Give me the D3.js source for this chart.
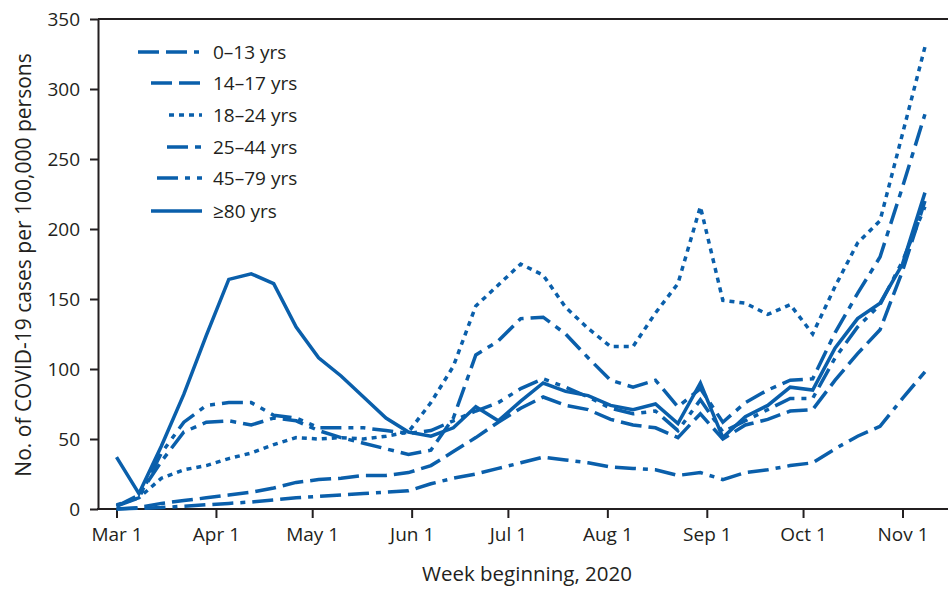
<!DOCTYPE html>
<html>
<head>
<meta charset="utf-8">
<script src="https://cdn.jsdelivr.net/npm/d3@7"></script>
<style>
  body { margin: 0; background: #fff; }
  svg text { font-family: "Myriad Pro", "Open Sans", sans-serif; fill: #231f20; }
</style>
</head>
<body>
<svg id="chart" width="948" height="589"></svg>
<script>
/* =====
   DATA (weekly rates per 100,000)
==== */

const weeks = [
    "2020-03-01", "2020-03-08", "2020-03-15", "2020-03-22", "2020-03-29",
    "2020-04-05", "2020-04-12", "2020-04-19", "2020-04-26", "2020-05-03",
    "2020-05-10", "2020-05-17", "2020-05-24", "2020-05-31", "2020-06-07",
    "2020-06-14", "2020-06-21", "2020-06-28", "2020-07-05", "2020-07-12",
    "2020-07-19", "2020-07-26", "2020-08-02", "2020-08-09", "2020-08-16",
    "2020-08-23", "2020-08-30", "2020-09-06", "2020-09-13", "2020-09-20",
    "2020-09-27", "2020-10-04", "2020-10-11", "2020-10-18", "2020-10-25",
    "2020-11-01", "2020-11-08"
];

const age0to13 = [0, 0.5, 1, 2, 3, 4, 5, 6.5, 8, 9, 10, 11, 12, 13, 18, 22, 25, 29, 33, 37,
    35, 33, 30, 29, 28, 24, 26, 21, 26, 28, 31, 33, 43, 52, 59, 79, 98];
const age14to17 = [0, 1, 4, 6, 8, 10, 12, 15, 19, 21, 22, 24, 24, 26, 31, 41, 51, 62, 72, 80,
    74, 71, 64, 60, 58, 51, 68, 50, 60, 64, 70, 71, 92, 111, 128, 170, 220];
const age18to24 = [3, 8, 22, 28, 31, 36, 40, 46, 51, 50, 51, 50, 52, 55, 76, 102, 145, 160, 175, 167,
    144, 129, 116, 116, 140, 161, 216, 149, 147, 139, 146, 125, 159, 190, 206, 268, 330];
const age25to44 = [2, 10, 34, 55, 62, 63, 60, 65, 63, 56, 51, 47, 43, 39, 42, 65, 110, 120, 136, 137,
    125, 108, 92, 87, 92, 73, 86, 62, 76, 85, 92, 93, 126, 154, 180, 230, 282];
const age45to79 = [2, 8, 40, 62, 74, 76, 76, 67, 65, 58, 58, 58, 56, 54, 56, 63, 70, 76, 86, 93,
    87, 80, 72, 68, 70, 56, 78, 55, 63, 71, 79, 79, 108, 130, 146, 177, 216];
const age80plus = [37, 11, 45, 82, 124, 164, 168, 161, 130, 108, 95, 80, 65, 55, 52, 58, 73, 63, 77, 90,
    84, 81, 74, 71, 75, 61, 90, 51, 66, 74, 87, 85, 115, 136, 147, 175, 226];

const seriesNames = ["0–13 yrs", "14–17 yrs", "18–24 yrs", "25–44 yrs", "45–79 yrs", "≥80 yrs"];
const seriesValues = [age0to13, age14to17, age18to24, age25to44, age45to79, age80plus];

const monthTicks = ["2020-03-01", "2020-04-01", "2020-05-01", "2020-06-01", "2020-07-01",
    "2020-08-01", "2020-09-01", "2020-10-01", "2020-11-01"];
const yTicks = [0, 50, 100, 150, 200, 250, 300, 350];


/* =====
   STYLE
==== */

const blue = "#0a5fab";
const ink = "#231f20";
const dashes = ["21,7,21,7,5,7", "21,7", "5,5", "21,7,6,7", "21,7,5,7,5,7", null];
const legendLen = [64, 51, 33, 35, 45, 51];

const W = 948, H = 589;
const plotLeft = 98;

const parse = d3.timeParse("%Y-%m-%d");

const svg = d3.select("#chart");

const x = d3.scaleTime()
    .domain([parse("2020-03-01"), parse("2020-11-01")])
    .range([116.5, 902.5]);

const y = d3.scaleLinear()
    .domain([0, 350])
    .range([509, 19]);


/* =====
   AXES
==== */

// top frame line
svg.append("line")
    .attr("x1", plotLeft).attr("x2", W)
    .attr("y1", y(350)).attr("y2", y(350))
    .attr("stroke", ink).attr("stroke-width", 2);

const yAxis = svg.append("g")
    .attr("transform", `translate(${plotLeft},0)`)
    .call(d3.axisLeft(y).tickValues(yTicks).tickSize(8).tickSizeOuter(0).tickPadding(10));

const xAxis = svg.append("g")
    .attr("transform", `translate(0,${y(0)})`)
    .call(d3.axisBottom(x)
        .tickValues(monthTicks.map(parse))
        .tickFormat(d3.timeFormat("%b %-d"))
        .tickSize(9).tickSizeOuter(0).tickPadding(10));

xAxis.select(".domain").remove();
xAxis.append("line")
    .attr("x1", plotLeft - 1).attr("x2", W)
    .attr("stroke", ink).attr("stroke-width", 2);

[xAxis, yAxis].forEach(a => {
    a.selectAll(".domain").attr("stroke", ink).attr("stroke-width", 2);
    a.selectAll(".tick line").attr("stroke", ink).attr("stroke-width", 2);
    a.selectAll(".tick text")
        .style("font-size", "19px")
        .style("font-family", "'Myriad Pro', 'Open Sans', sans-serif")
        .attr("fill", ink);
});

svg.append("text")
    .attr("transform", `translate(31,${(y(0) + y(350)) / 2 + 1}) rotate(-90)`)
    .attr("text-anchor", "middle")
    .style("font-size", "21px")
    .text("No. of COVID-19 cases per 100,000 persons");

svg.append("text")
    .attr("x", 527)
    .attr("y", 581)
    .attr("text-anchor", "middle")
    .style("font-size", "20.5px")
    .text("Week beginning, 2020");


/* =====
   LINES
==== */

const line = d3.line()
    .x((d, i) => x(parse(weeks[i])))
    .y(d => y(d));

seriesValues.forEach((vals, k) => {
    svg.append("path")
        .datum(vals)
        .attr("d", line)
        .attr("fill", "none")
        .attr("stroke", blue)
        .attr("stroke-width", 3.5)
        .attr("stroke-linejoin", "miter")
        .attr("stroke-dasharray", dashes[k]);
});


/* =====
   LEGEND
==== */

const legend = svg.append("g");
const legendRight = 202;
const rowY = [52, 83, 115, 147, 178, 211];

seriesNames.forEach((name, k) => {
    legend.append("line")
        .attr("x1", legendRight - legendLen[k]).attr("x2", legendRight)
        .attr("y1", rowY[k]).attr("y2", rowY[k])
        .attr("stroke", blue)
        .attr("stroke-width", 3.5)
        .attr("stroke-dasharray", dashes[k]);

    legend.append("text")
        .attr("x", 213)
        .attr("y", rowY[k] + 6.5)
        .style("font-size", "19px")
        .text(name);
});
</script>
</body>
</html>
